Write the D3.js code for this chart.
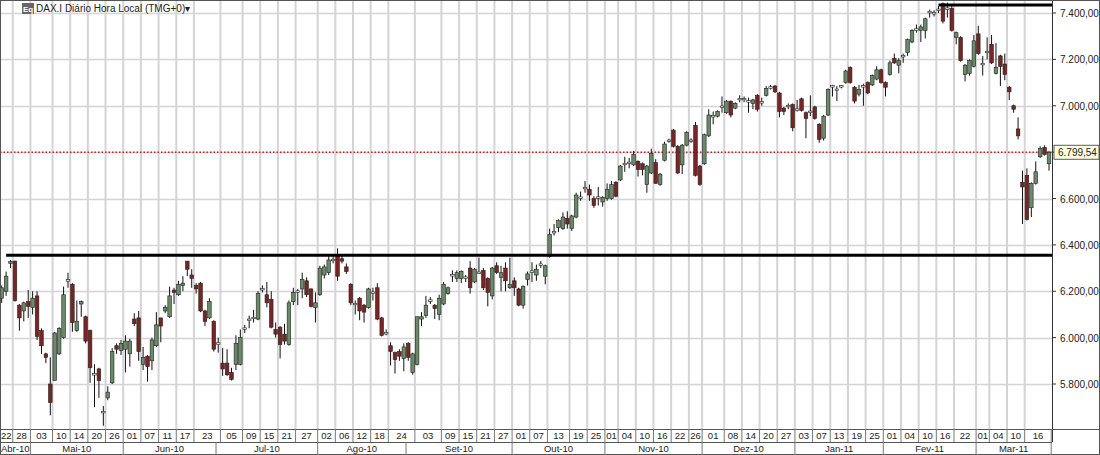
<!DOCTYPE html>
<html>
<head>
<meta charset="utf-8">
<script src="https://cdnjs.cloudflare.com/ajax/libs/d3/7.8.5/d3.min.js"></script>
<style>
  body { margin: 0; background: #fff; }
  text { font-family: Arial, "Liberation Sans", sans-serif; }
</style>
</head>
<body>
<div id="chart"></div>
<script>
// daily candles [open, high, low, close], oldest first
var candles = [
[6170,6225,6150,6215],[6200,6285,6180,6265],[6320,6335,6300,6328],[6330,6332,6155,6160],[6140,6145,6030,6085],
[6115,6155,6070,6150],[6155,6205,6085,6135],[6130,6200,6100,6170],[6180,6200,5990,6005],[6030,6040,5930,5965],
[5930,5935,5890,5915],[5800,5915,5665,5720],[5815,6025,5815,6020],[5930,6045,5925,6040],[6000,6220,5995,6185],
[6245,6280,6215,6250],[6230,6235,6025,6065],[6030,6160,6025,6070],[6145,6160,6090,6155],[6090,6095,5975,5985],
[6030,6035,5805,5870],[5845,5885,5700,5840],[5865,5870,5740,5815],[5676,5705,5620,5682],[5740,5790,5730,5765],
[5805,5955,5800,5940],[5965,5975,5930,5950],[5945,5990,5925,5975],[5950,6010,5850,5985],[5930,5995,5875,5985],
[6080,6105,6050,6060],[6085,6115,5900,5940],[5885,5960,5860,5915],[5920,5925,5810,5875],[5900,6000,5860,5990],
[5965,6110,5960,6055],[6085,6085,5980,6050],[6115,6140,6105,6130],[6090,6220,6085,6180],[6205,6215,6145,6195],
[6185,6245,6180,6230],[6225,6265,6200,6235],[6330,6330,6265,6295],[6270,6295,6215,6255],[6225,6235,6190,6210],
[6235,6240,6110,6115],[6115,6120,6050,6070],[6085,6170,6080,6155],[6070,6075,5940,5950],[5972,6000,5935,5978],
[5890,5955,5835,5865],[5890,5950,5835,5840],[5850,5870,5815,5820],[5885,6010,5860,5975],[5885,6035,5880,6000],
[6038,6055,6020,6042],[6075,6095,6040,6080],[6083,6120,6065,6088],[6080,6200,6075,6190],[6208,6225,6195,6212],
[6185,6240,6130,6150],[6165,6200,6040,6045],[6035,6065,6000,6015],[6045,6050,5910,5970],[6015,6060,5970,5985],
[5970,6160,5965,6150],[6155,6215,6140,6195],[6198,6210,6140,6202],[6210,6280,6170,6250],[6245,6260,6175,6185],
[6210,6212,6130,6135],[6130,6195,6065,6150],[6185,6310,6180,6300],[6270,6315,6255,6305],[6280,6360,6270,6335],
[6333,6355,6320,6338],[6355,6385,6245,6265],[6340,6355,6320,6330],[6305,6320,6275,6285],[6230,6235,6140,6150],
[6143,6160,6100,6148],[6170,6175,6075,6115],[6140,6145,6065,6110],[6130,6215,6125,6210],[6193,6215,6160,6197],
[6215,6235,6075,6080],[6085,6090,6005,6010],[6018,6035,6010,6022],[5965,5980,5880,5940],[5935,5940,5845,5905],
[5940,5950,5900,5920],[5910,5975,5855,5960],[5975,5980,5900,5915],[5850,5935,5840,5930],[5885,6090,5880,6090],
[6080,6110,6050,6090],[6095,6180,6085,6140],[6158,6175,6145,6163],[6140,6145,6080,6125],[6100,6185,6075,6170],
[6145,6240,6140,6230],[6190,6220,6185,6215],[6268,6290,6240,6272],[6255,6290,6240,6280],[6255,6290,6235,6285],
[6258,6270,6240,6262],[6300,6330,6190,6215],[6240,6300,6235,6295],[6278,6345,6275,6283],[6290,6300,6205,6215],
[6255,6260,6135,6195],[6180,6305,6165,6300],[6310,6325,6275,6280],[6260,6310,6200,6280],[6300,6325,6200,6245],
[6215,6345,6210,6230],[6245,6260,6180,6215],[6210,6215,6135,6140],[6140,6225,6125,6220],[6250,6285,6225,6275],
[6283,6325,6240,6288],[6270,6315,6245,6295],[6313,6330,6300,6318],[6265,6315,6230,6310],[6350,6470,6345,6445],
[6452,6490,6440,6458],[6475,6510,6455,6505],[6470,6540,6465,6520],[6515,6545,6470,6490],[6470,6530,6460,6525],
[6520,6625,6515,6615],[6602,6630,6590,6607],[6642,6675,6625,6648],[6640,6660,6590,6615],[6600,6610,6560,6570],
[6602,6650,6570,6607],[6585,6610,6565,6605],[6600,6665,6590,6640],[6600,6675,6595,6660],[6670,6675,6605,6610],
[6680,6745,6675,6740],[6747,6780,6715,6752],[6752,6775,6730,6757],[6745,6805,6740,6790],[6760,6765,6695,6725],
[6750,6755,6700,6725],[6660,6745,6625,6740],[6710,6815,6705,6795],[6755,6770,6665,6665],[6660,6710,6655,6705],
[6765,6845,6760,6835],[6848,6858,6840,6852],[6895,6900,6820,6825],[6825,6830,6705,6710],[6745,6835,6705,6830],
[6830,6890,6825,6885],[6848,6860,6840,6852],[6915,6930,6695,6700],[6740,6745,6655,6660],[6750,6880,6745,6875],
[6870,6985,6865,6960],[6953,6975,6920,6958],[6955,6980,6950,6975],[6995,7040,6970,6999],[6970,7025,6965,7020],
[7020,7022,6950,6960],[6990,7015,6985,7010],[7028,7045,7015,7032],[7028,7040,7015,7032],[7018,7035,6970,7022],
[7010,7030,6985,7025],[7045,7050,6975,6985],[7012,7035,7000,7018],[7045,7085,7040,7075],[7078,7090,7070,7082],
[7085,7090,7055,7060],[7055,7060,6950,6975],[6990,6995,6960,6975],[6998,7010,6985,7002],[7005,7010,6890,6905],
[6983,7025,6975,6987],[7030,7035,6975,6980],[6970,6975,6860,6945],[6973,7045,6955,6977],[6995,7000,6940,6945],
[6920,6925,6840,6855],[6860,6960,6850,6955],[6960,7075,6955,7070],[7083,7090,7040,7087],[7065,7085,7020,7072],
[7083,7090,7075,7087],[7100,7155,7095,7150],[7165,7170,7095,7100],[7080,7085,7010,7020],[7050,7090,7040,7070],
[7083,7095,7000,7087],[7100,7105,7050,7055],[7090,7135,7085,7130],[7115,7170,7110,7155],[7155,7160,7095,7100],
[7100,7105,7040,7080],[7135,7195,7130,7185],[7205,7225,7180,7185],[7175,7205,7140,7195],[7213,7225,7185,7217],
[7230,7290,7215,7285],[7275,7330,7270,7325],[7328,7350,7315,7332],[7325,7350,7275,7340],[7325,7380,7290,7375],
[7403,7415,7380,7407],[7398,7412,7385,7402],[7413,7430,7400,7417],[7440,7445,7355,7365],[7418,7445,7380,7422],
[7420,7435,7320,7325],[7295,7320,7265,7315],[7295,7300,7190,7195],[7135,7180,7105,7175],[7140,7200,7130,7195],
[7170,7305,7165,7280],[7310,7345,7220,7225],[7178,7215,7130,7183],[7230,7295,7200,7235],[7265,7305,7180,7185],
[7140,7270,7135,7165],[7215,7220,7085,7170],[7180,7225,7110,7135],[7080,7085,7025,7060],[7000,7005,6970,6985],
[6900,6950,6855,6870],[6670,6720,6490,6650],[6700,6730,6505,6510],[6560,6670,6520,6665],[6665,6760,6660,6715],
[6780,6825,6775,6815],[6820,6830,6785,6790],[6750,6805,6720,6799.54]
];

// day ticks: [candle number, label]
var dayTicks = [
[1,"22"],[4,"28"],[8,"03"],[13,"10"],[17,"14"],[21,"20"],[25,"26"],[29,"01"],[33,"07"],[37,"11"],[41,"17"],[45,"23"],
[51,"05"],[56,"09"],[60,"15"],[64,"21"],[68,"27"],[73,"02"],[77,"06"],[81,"12"],[85,"18"],[89,"24"],
[95,"03"],[101,"09"],[105,"15"],[109,"21"],[113,"27"],[117,"01"],[121,"07"],[125,"13"],[130,"19"],[134,"25"],
[138,"01"],[141,"04"],[145,"10"],[149,"16"],[153,"22"],[157,"26"],[160,"01"],[165,"08"],[169,"14"],[173,"20"],[177,"27"],
[181,"03"],[185,"07"],[189,"13"],[193,"19"],[197,"25"],[201,"01"],[205,"04"],[209,"10"],[213,"16"],[217,"22"],
[222,"01"],[225,"04"],[229,"10"],[233,"16"]
];
var monthTicks = [
[1,"Abr-10"],[8,"Mai-10"],[29,"Jun-10"],[50,"Jul-10"],[73,"Ago-10"],[93,"Set-10"],[117,"Out-10"],
[138,"Nov-10"],[160,"Dez-10"],[181,"Jan-11"],[201,"Fev-11"],[222,"Mar-11"]
];
var priceTicks = [5800, 6000, 6200, 6400, 6600, 6800, 7000, 7200, 7400];
var supportLevel = 6355, supportFrom = 2;
var topLevel = 7435, topFrom = 213;
var lastPrice = 6799.54;

var W = 1100, H = 455, plotR = 1052, plotB = 429, rowB = 442;
var n = candles.length;

var x = d3.scaleLinear().domain([1, n]).range([1.7, 1049]);
var y = d3.scaleLinear().domain([5800, 7400]).range([384, 13]);
var step = x(2) - x(1);

var loc = d3.formatLocale({decimal: ",", thousands: ".", grouping: [3], currency: ["", ""]});
var fmt = loc.format(",.2f");

var svg = d3.select("#chart").append("svg").attr("width", W).attr("height", H);

var clip = svg.append("clipPath").attr("id", "pc").append("rect")
    .attr("x", 0).attr("y", 0).attr("width", plotR).attr("height", plotB);

var plot = svg.append("g").attr("clip-path", "url(#pc)");

// grid
plot.selectAll("line.hg").data(priceTicks).enter().append("line")
    .attr("x1", 0).attr("x2", plotR)
    .attr("y1", function (d) { return Math.round(y(d)) + 0.5; })
    .attr("y2", function (d) { return Math.round(y(d)) + 0.5; })
    .attr("stroke", "#d4d4d4").attr("stroke-width", 1.5);

plot.selectAll("line.vg").data(dayTicks.slice(1)).enter().append("line")
    .attr("x1", function (d) { return x(d[0]) - step / 2; })
    .attr("x2", function (d) { return x(d[0]) - step / 2; })
    .attr("y1", 0).attr("y2", plotB)
    .attr("stroke", "#d4d4d4").attr("stroke-width", 2);

// last price dotted line
plot.append("line")
    .attr("x1", 0).attr("x2", plotR)
    .attr("y1", y(lastPrice)).attr("y2", y(lastPrice))
    .attr("stroke", "#d02020").attr("stroke-width", 1.3).attr("stroke-dasharray", "1.5,2");

// candles
var g = plot.selectAll("g.c").data(candles).enter().append("g");
g.append("line")
    .attr("x1", function (d, i) { return x(i + 1); })
    .attr("x2", function (d, i) { return x(i + 1); })
    .attr("y1", function (d) { return y(d[1]); })
    .attr("y2", function (d) { return y(d[2]); })
    .attr("stroke", "#111").attr("stroke-width", 1);
g.append("rect")
    .attr("x", function (d, i) { return x(i + 1) - 1.8; })
    .attr("width", 3.6)
    .attr("y", function (d) { return y(Math.max(d[0], d[3])); })
    .attr("height", function (d) { return Math.max(1.5, Math.abs(y(d[0]) - y(d[3]))); })
    .attr("fill", function (d) { return Math.abs(d[3] - d[0]) < 8 ? "#f4f4f4" : (d[3] > d[0] ? "#6a8a6a" : "#7a2424"); })
    .attr("stroke", "#222").attr("stroke-width", 0.6);

// horizontal levels
plot.append("line")
    .attr("x1", x(supportFrom)).attr("x2", plotR)
    .attr("y1", y(supportLevel)).attr("y2", y(supportLevel))
    .attr("stroke", "#000").attr("stroke-width", 3);
plot.append("line")
    .attr("x1", x(topFrom)).attr("x2", plotR)
    .attr("y1", y(topLevel)).attr("y2", y(topLevel))
    .attr("stroke", "#000").attr("stroke-width", 3);

// right axis
svg.append("line").attr("x1", plotR + 0.5).attr("x2", plotR + 0.5).attr("y1", 0).attr("y2", rowB)
    .attr("stroke", "#333");
svg.selectAll("text.pt").data(priceTicks).enter().append("text")
    .attr("x", plotR + 8).attr("y", function (d) { return y(d) + 4; })
    .attr("font-size", 10).attr("fill", "#222")
    .text(function (d) { return fmt(d); });
svg.selectAll("line.pk").data(priceTicks).enter().append("line")
    .attr("x1", plotR).attr("x2", plotR + 4)
    .attr("y1", function (d) { return y(d); }).attr("y2", function (d) { return y(d); })
    .attr("stroke", "#333");
svg.append("rect").attr("x", plotR + 2).attr("y", y(lastPrice) - 7).attr("width", 45).attr("height", 14)
    .attr("fill", "#ffffe0").attr("stroke", "#333").attr("stroke-width", 0.8);
svg.append("text").attr("x", plotR + 6).attr("y", y(lastPrice) + 4)
    .attr("font-size", 10).attr("fill", "#222").text(fmt(lastPrice));

// bottom rows
svg.append("rect").attr("x", 0.5).attr("y", 0.5).attr("width", W - 1).attr("height", H - 1)
    .attr("fill", "none").attr("stroke", "#555");
svg.append("line").attr("x1", 0).attr("x2", W).attr("y1", plotB + 0.5).attr("y2", plotB + 0.5).attr("stroke", "#555");
svg.append("line").attr("x1", 0).attr("x2", plotR).attr("y1", rowB + 0.5).attr("y2", rowB + 0.5).attr("stroke", "#555");

var endX = x(n) + step / 2;
dayTicks.forEach(function (d, i) {
    var x0 = i === 0 ? 0 : x(d[0]) - step / 2;
    var x1 = i < dayTicks.length - 1 ? x(dayTicks[i + 1][0]) - step / 2 : endX;
    svg.append("line").attr("x1", x1).attr("x2", x1).attr("y1", plotB).attr("y2", rowB).attr("stroke", "#777");
    svg.append("text").attr("x", (x0 + x1) / 2).attr("y", plotB + 10).attr("text-anchor", "middle")
        .attr("font-size", 9.5).attr("fill", "#222").text(d[1]);
});
monthTicks.forEach(function (d, i) {
    var x0 = i === 0 ? 0 : x(d[0]) - step / 2;
    var x1 = i < monthTicks.length - 1 ? x(monthTicks[i + 1][0]) - step / 2 : endX;
    svg.append("line").attr("x1", x1).attr("x2", x1).attr("y1", rowB).attr("y2", H).attr("stroke", "#777");
    svg.append("text").attr("x", (x0 + x1) / 2).attr("y", rowB + 10).attr("text-anchor", "middle")
        .attr("font-size", 9.5).attr("fill", "#222").text(d[1]);
});

// title
svg.append("rect").attr("x", 22).attr("y", 3).attr("width", 12).attr("height", 11).attr("fill", "#666");
svg.append("text").attr("x", 23).attr("y", 12).attr("font-size", 8).attr("fill", "#fff").attr("font-weight", "bold").text("Eq");
svg.append("text").attr("x", 36).attr("y", 12).attr("font-size", 10).attr("fill", "#222")
    .text("DAX.I Diário Hora Local (TMG+0)\u25BE");
</script>
</body>
</html>
